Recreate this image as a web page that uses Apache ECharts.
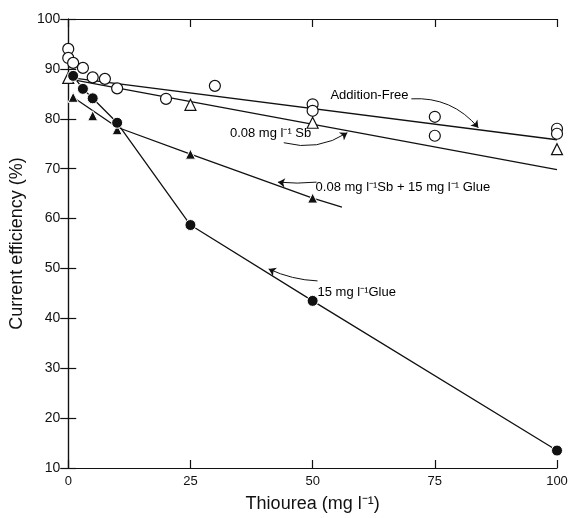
<!DOCTYPE html>
<html><head><meta charset="utf-8">
<script src="https://cdn.jsdelivr.net/npm/echarts@6/dist/echarts.min.js"></script>
<style>html,body{margin:0;padding:0;background:#fff}#c{width:573px;height:518px}</style>
</head><body><div id="c"></div>
<script>
// ---- data ----
const xTicks = [0, 25, 50, 75, 100];
const yTicks = [10, 20, 30, 40, 50, 60, 70, 80, 90, 100];

// Addition-Free (open circles)
const additionFreePts = [[0,94],[0,92.2],[1,91.2],[3,90.2],[5,88.3],[7.5,88],[10,86.1],[20,84],[30,86.6],[50,82.9],[50,81.6],[75,80.4],[75,76.6],[100,78],[100,77]];
const additionFreeFit = [[0,88.3],[100,75.8]];
// 0.08 mg/l Sb (open triangles)
const sbPts = [[0,88.2],[25,82.8],[50,79.2],[100,73.9]];
const sbFit = [[0,88],[100,69.8]];
// 0.08 mg/l Sb + 15 mg/l Glue (filled triangles)
const sbGluePts = [[1,84.3],[5,80.6],[10,77.8],[25,72.9],[50,64.1]];
const sbGlueFit = [[1,84.3],[10,78.3],[25,72.9],[50,64.1],[56,62.3]];
// 15 mg/l Glue (filled circles)
const gluePts = [[1,88.6],[3,86],[5,84.1],[10,79.2],[25,58.7],[50,43.5],[100,13.5]];

// annotation texts
const labelTexts = ['Addition-Free', '0.08 mg l\u207B\u00B9 Sb', '0.08 mg l\u207B\u00B9Sb + 15 mg l\u207B\u00B9 Glue', '15 mg l\u207B\u00B9Glue'];
// annotation anchors (data coordinates): text anchor, arrow start, arrow end
const labelAnchors = [[69.6,84.6],[41.4,77.0],[50.6,66.3],[51,45.1]];
const arrowStarts = [[70.2,84.0],[44.1,75.2],[50.8,67.3],[51,47.5]];
const arrowEnds   = [[83.9,78.2],[57.1,77.2],[42.9,67.3],[41,49.9]];

// ---- chart ----
const ink = '#111';
const FONT = 'Liberation Sans, Arial, sans-serif';
const chart = echarts.init(document.getElementById('c'), null, {renderer:'canvas'});

const labelAlign = ['right','center','left','left'];
const curv = [0.25, -0.22, 0.05, 0.1];

const option = {
  animation: false,
  backgroundColor: '#fff',
  grid: {left: 67, right: 16, top: 19, bottom: 50},
  xAxis: [{
    type: 'value', min: 0, max: 100, interval: 25,
    name: 'Thiourea (mg l\u207B\u00B9)', nameLocation: 'middle', nameGap: 27,
    nameTextStyle: {fontFamily: FONT, fontSize: 18, color: ink},
    axisLine: {lineStyle: {color: ink, width: 1.2}},
    axisTick: {inside: true, length: 8, lineStyle: {color: ink, width: 1.2}},
    axisLabel: {fontFamily: FONT, fontSize: 13, color: ink, margin: 7,
      formatter: v => xTicks.includes(v) ? String(v) : ''},
    splitLine: {show: false}
  },{
    type: 'value', min: 0, max: 100, interval: 25, position: 'top',
    axisLine: {lineStyle: {color: ink, width: 1.2}},
    axisTick: {inside: true, length: 8, lineStyle: {color: ink, width: 1.2}},
    axisLabel: {show: false}, splitLine: {show: false}
  }],
  yAxis: [{
    type: 'value', min: 10, max: 100, interval: 10,
    name: 'Current efficiency (%)', nameLocation: 'middle', nameGap: 33,
    nameTextStyle: {fontFamily: FONT, fontSize: 18, color: ink},
    axisLine: {lineStyle: {color: ink, width: 1.2}},
    axisTick: {inside: true, length: 8, lineStyle: {color: ink, width: 1.2}},
    axisLabel: {fontFamily: FONT, fontSize: 14, color: ink, margin: 8,
      formatter: v => yTicks.includes(v) ? String(v) : ''},
    splitLine: {show: false}
  },{
    type: 'value', min: 10, max: 100, interval: 10, position: 'right',
    axisLine: {lineStyle: {color: ink, width: 1.2}},
    axisTick: {inside: true, length: 8, lineStyle: {color: ink, width: 1.2}},
    axisLabel: {show: false}, splitLine: {show: false}
  }],
  series: [
    {type:'line', data: additionFreeFit, showSymbol:false, lineStyle:{color:ink, width:1.3}, z:2},
    {type:'line', data: sbFit, showSymbol:false, lineStyle:{color:ink, width:1.3}, z:2},
    {type:'line', data: sbGlueFit, showSymbol:false, lineStyle:{color:ink, width:1.3}, z:2},
    {type:'line', data: gluePts, showSymbol:false, lineStyle:{color:ink, width:1.3}, z:2},
    {type:'scatter', name:'Addition-Free', data: additionFreePts, symbol:'circle', symbolSize:11,
      itemStyle:{color:'#fff', borderColor:ink, borderWidth:1.2, opacity:1}, z:5},
    {type:'scatter', name:'Sb', data: sbPts, symbol:'triangle', symbolSize:11,
      itemStyle:{color:'#fff', borderColor:ink, borderWidth:1.2, opacity:1}, z:5},
    {type:'scatter', name:'Sb+Glue', data: sbGluePts, symbol:'triangle', symbolSize:10,
      itemStyle:{color:ink, borderColor:'#fff', borderWidth:1, opacity:1}, z:5},
    {type:'scatter', name:'Glue', data: gluePts, symbol:'circle', symbolSize:11,
      itemStyle:{color:ink, borderColor:'#fff', borderWidth:1, opacity:1}, z:5},
    {type:'lines', coordinateSystem:'cartesian2d', z:4,
      symbol:['none','arrow'], symbolSize:7,
      data: arrowStarts.map((s,i)=>({coords:[s, arrowEnds[i]], lineStyle:{curveness: curv[i]}})),
      lineStyle:{color:ink, width:1, opacity:1}},
    {type:'scatter', symbolSize:0, z:6, silent:true,
      data: labelAnchors.map((p,i)=>({value:p, label:{show:true, formatter: labelTexts[i],
        position: labelAlign[i]==='right'?'left':(labelAlign[i]==='left'?'right':'inside'),
        distance: 0, fontFamily: FONT, fontSize: 13, color: '#000', opacity: 1}}))}
  ]
};
chart.setOption(option);
</script></body></html>
